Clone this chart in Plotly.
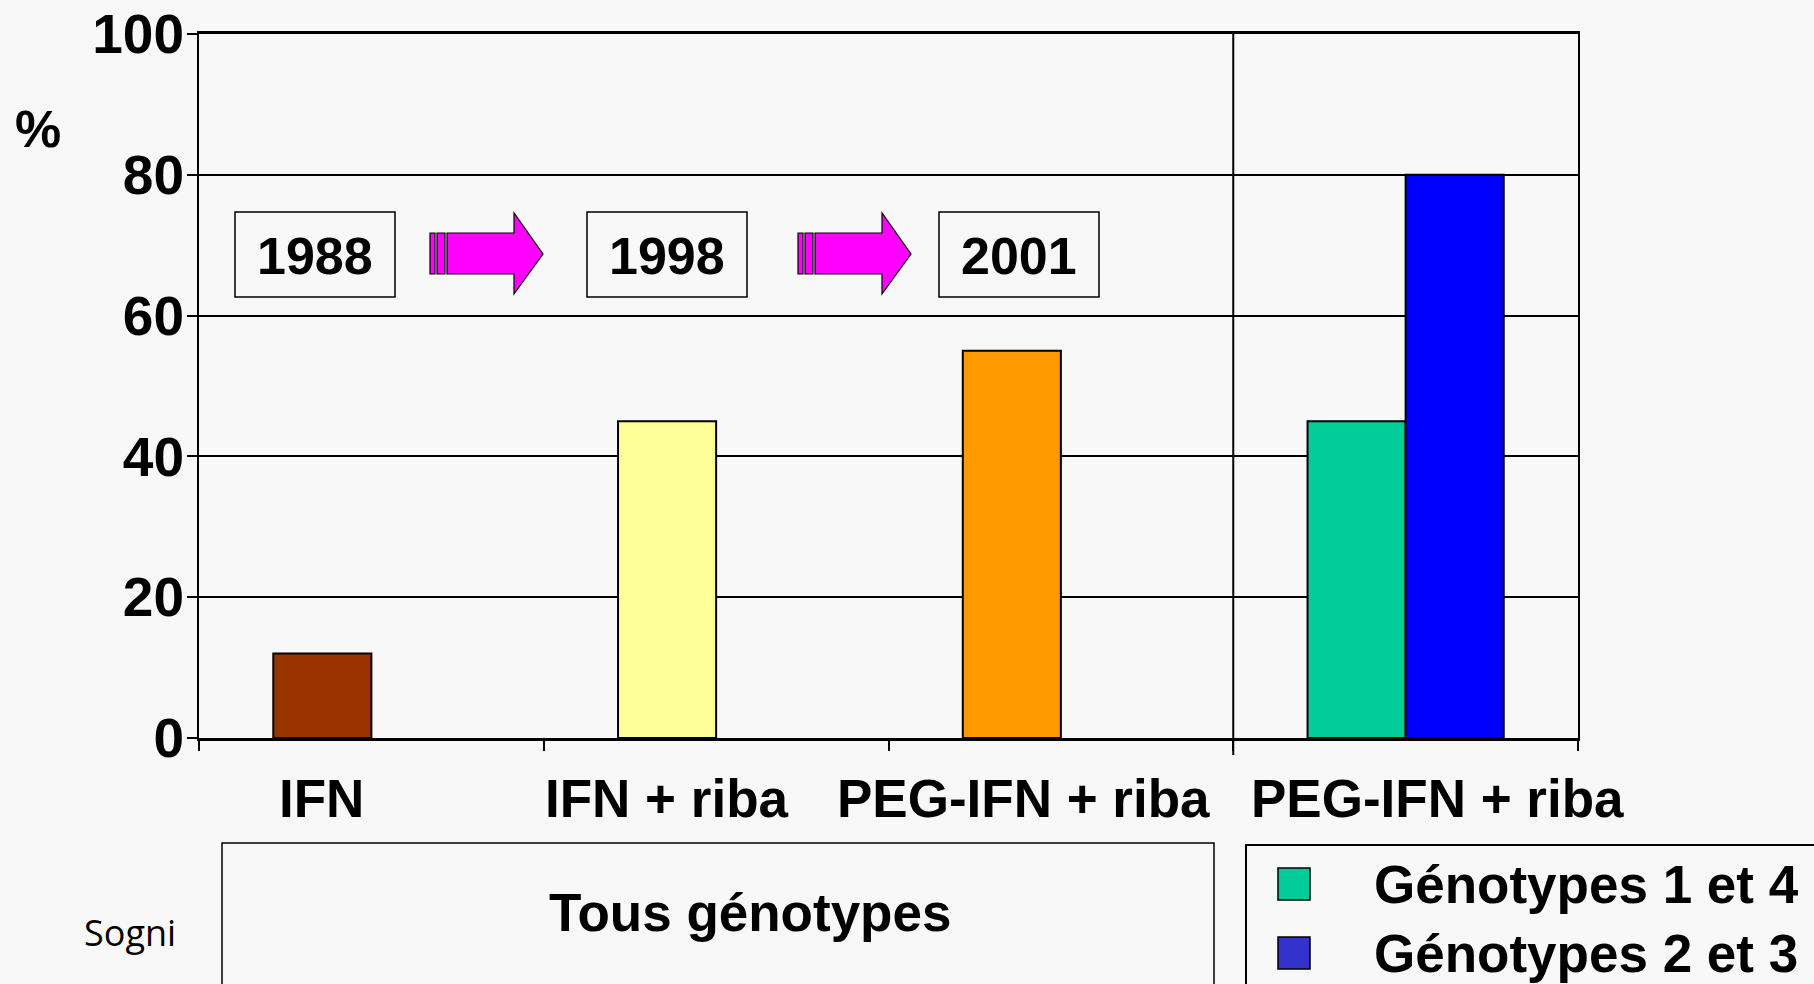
import plotly.graph_objects as go

# ---- data ----
categories = ["IFN", "IFN + riba", "PEG-IFN + riba", "PEG-IFN + riba (génotypes)"]
cat_labels = ["IFN", "IFN + riba", "PEG-IFN + riba", "PEG-IFN + riba"]
series1_values = [12, 45, 55, 45]
series2_values = [None, None, None, 80]
series1_colors = ["#993300", "#FFFF99", "#FF9900", "#00CC99"]
series2_colors = ["#0000FF"] * 4
years = ["1988", "1998", "2001"]
legend_names = ["Génotypes 1 et 4", "Génotypes 2 et 3"]
legend_colors = ["#00CC99", "#3333CC"]
y_ticks = [0, 20, 40, 60, 80, 100]

W, H = 1814, 984
L, R, T, B = 199, 1578, 34, 738
PW, PH = R - L, B - T


def px(x):
    return (x - L) / PW


def py(y):
    return (B - y) / PH


BG = "#F8F8F8"
FONT = "Liberation Sans"

fig = go.Figure()
fig.add_trace(go.Bar(x=categories, y=series1_values, marker=dict(color=series1_colors, line=dict(color="black", width=2)),
                     showlegend=False, hoverinfo="y"))
fig.add_trace(go.Bar(x=categories, y=series2_values, marker=dict(color=series2_colors, line=dict(color="black", width=2)),
                     showlegend=False, hoverinfo="y"))

shapes = []
ann = []

# divider line between groups
shapes.append(dict(type="line", xref="x", yref="paper", x0=2.5, x1=2.5, y0=py(755), y1=1,
                   line=dict(color="black", width=2)))

# year boxes
box_x = [(235, 395), (587, 747), (939, 1099)]
for (x0, x1), yr in zip(box_x, years):
    shapes.append(dict(type="rect", xref="paper", yref="paper", x0=px(x0), x1=px(x1), y0=py(297), y1=py(212),
                       line=dict(color="black", width=1.5), fillcolor=BG, layer="above"))
    ann.append(dict(xref="paper", yref="paper", x=px((x0 + x1) / 2), y=py(256), text=yr, showarrow=False,
                    xanchor="center", yanchor="middle",
                    font=dict(family=FONT, size=52, color="black", weight="bold")))

# arrows
for off in [0, 368]:
    for (a, b) in [(430, 435), (437, 445)]:
        shapes.append(dict(type="rect", xref="paper", yref="paper", x0=px(a + off), x1=px(b + off),
                           y0=py(274), y1=py(233), fillcolor="#FF00FF", line=dict(color="black", width=1.2),
                           layer="above"))
    pts = [(447, 233), (514, 233), (514, 213), (543, 254), (514, 294), (514, 274), (447, 274)]
    path = "M " + " L ".join(f"{px(x + off):.5f},{py(y):.5f}" for x, y in pts) + " Z"
    shapes.append(dict(type="path", xref="paper", yref="paper", path=path, fillcolor="#FF00FF",
                       line=dict(color="black", width=1.2), layer="above"))

# category labels
label_x = [321, 667, 1024, 1437]
for lx, t in zip(label_x, cat_labels):
    ann.append(dict(xref="paper", yref="paper", x=px(lx), y=py(798), text=t, showarrow=False,
                    xanchor="center", yanchor="middle",
                    font=dict(family=FONT, size=53, color="black", weight="bold")))

# % label
ann.append(dict(xref="paper", yref="paper", x=px(38), y=py(129), text="%", showarrow=False,
                xanchor="center", yanchor="middle",
                font=dict(family=FONT, size=52, color="black", weight="bold")))

# "Tous génotypes" box
shapes.append(dict(type="rect", xref="paper", yref="paper", x0=px(222), x1=px(1214), y0=py(1000), y1=py(843),
                   line=dict(color="black", width=1.5)))
ann.append(dict(xref="paper", yref="paper", x=px(750), y=py(912), text="Tous génotypes", showarrow=False,
                xanchor="center", yanchor="middle",
                font=dict(family=FONT, size=53, color="black", weight="bold")))

# Sogni
ann.append(dict(xref="paper", yref="paper", x=px(130), y=py(932), text="Sogni", showarrow=False,
                xanchor="center", yanchor="middle",
                font=dict(family="Open Sans", size=36, color="black")))

# legend box
shapes.append(dict(type="rect", xref="paper", yref="paper", x0=px(1246), x1=px(1830), y0=py(1000), y1=py(845),
                   line=dict(color="black", width=2)))
for i, (name, col) in enumerate(zip(legend_names, legend_colors)):
    yc = 884 + i * 69
    shapes.append(dict(type="rect", xref="paper", yref="paper", x0=px(1278), x1=px(1310),
                       y0=py(yc + 16), y1=py(yc - 16), fillcolor=col, line=dict(color="black", width=1.5)))
    ann.append(dict(xref="paper", yref="paper", x=px(1372), y=py(yc), text=name, showarrow=False,
                    xanchor="left", yanchor="middle",
                    font=dict(family=FONT, size=53, color="black", weight="bold")))

fig.update_layout(
    width=W, height=H,
    margin=dict(l=L, r=W - R, t=T, b=H - B, pad=0, autoexpand=False),
    paper_bgcolor=BG, plot_bgcolor=BG,
    barmode="group", bargap=0.431, bargroupgap=0,
    shapes=shapes, annotations=ann,
    xaxis=dict(type="category", range=[-0.5, 3.5], showticklabels=False, tickson="boundaries",
               ticks="outside", ticklen=10, tickwidth=2, tickcolor="black", automargin=False,
               showline=True, linecolor="black", linewidth=3, mirror=True, showgrid=False, zeroline=False),
    yaxis=dict(range=[0, 100], tickvals=y_ticks, ticks="outside", ticklen=10, tickwidth=1.5, tickcolor="black",
               showline=True, linecolor="black", linewidth=2, mirror=True, automargin=False,
               ticklabelstandoff=-8,
               showgrid=True, gridcolor="black", gridwidth=1.5, zeroline=False,
               tickfont=dict(family=FONT, size=55, color="black", weight="bold")),
)

fig.write_html(
    "out.html",
    config={"displayModeBar": False},
    post_script="document.body.style.margin='0';document.body.style.overflow='hidden';"
                "document.body.style.background='" + BG + "';",
)
